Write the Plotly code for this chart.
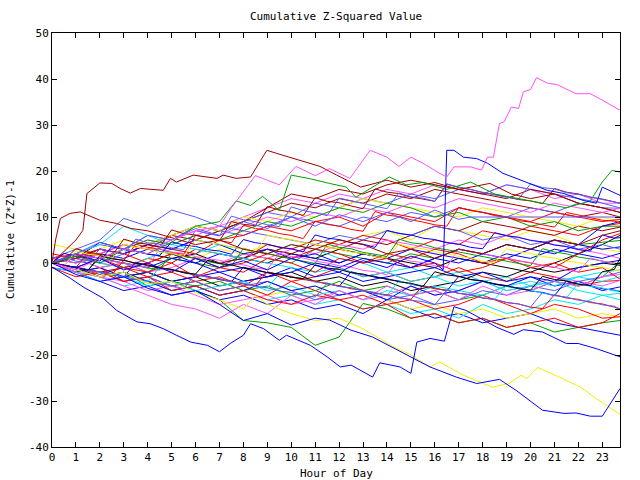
import plotly.graph_objects as go

# ---------------- data ----------------
HOURS = [0, 1, 2, 3, 4, 5, 6, 7, 8, 9, 10, 11, 12, 13, 14, 15, 16, 17, 18, 19, 20, 21, 22, 23, 23.74]
HALF_HOURS = [0, 0.5, 1, 1.5, 2, 2.5, 3, 3.5, 4, 4.5, 5, 5.5, 6, 6.5, 7, 7.5, 8, 8.5, 9, 9.5, 10, 10.5, 11, 11.5,
              12, 12.5, 13, 13.5, 14, 14.5, 15, 15.5, 16, 16.5, 17, 17.5, 18, 18.5, 19, 19.5, 20, 20.5, 21, 21.5,
              22, 22.5, 23, 23.5, 23.74]
X_TICKS = list(range(24))
Y_TICKS = [-40, -30, -20, -10, 0, 10, 20, 30, 40, 50]

# prominent lines with their own time points
pink_big_x = [0, 1, 2, 3, 4, 5, 6, 7, 7.5, 8.5, 9.5, 10.2, 11, 11.6, 12.45, 13.3, 14, 14.5, 15, 15.5, 16.2, 16.5,
              16.8, 17.5, 17.95, 18.2, 18.45, 18.7, 18.9, 19.2, 19.5, 19.7, 20, 20.25, 20.7, 21.1, 21.9, 22.5, 23, 23.74]
pink_big_y = [0, -1.5, 1, 3, 2, 5, 7, 8, 12, 19, 17, 21, 19, 20.5, 18.4, 24.5, 23, 21, 23, 21.7, 19.5, 18.7,
              20.9, 20.9, 20.2, 23, 23, 30.3, 30.7, 33.9, 33.6, 37.2, 37.7, 40.3, 39.1, 38.8, 36.8, 36.8, 35.4, 33.2]

darkred_top_x = [0, 0.5, 1.0, 1.29, 1.46, 2.0, 2.5, 2.85, 3.27, 3.7, 4.65, 4.95, 5.2, 5.9, 6.9, 7.15, 7.7, 8.3, 8.98,
                 9.6, 10.4, 11.2, 11.9, 12.9, 14, 15, 16, 17, 18.3, 19.2, 20, 21, 22, 23, 23.74]
darkred_top_y = [0, 2.5, 5, 7.1, 15.1, 17.4, 17.3, 16.2, 15.2, 16.2, 15.8, 18.4, 17.6, 19.1, 18.4, 19.1, 18.4, 18.7, 24.5,
                 23.5, 22.3, 21, 19.1, 16.5, 18, 16.5, 17.5, 16, 17.3, 15, 14, 15, 13, 12, 11]

darkred_low_x = [0, 0.15, 0.35, 0.76, 1.18, 1.6, 2.0, 2.7, 3.3, 4, 5, 6, 7, 8, 9, 10, 11, 12, 13, 14, 15, 16, 17, 18, 19, 20, 21, 22, 23, 23.74]
darkred_low_y = [0, 5, 9.7, 10.8, 11.1, 10.1, 9.3, 8.6, 7.5, 7, 5.5, 4, 5, 3, 2, 4, 3, 5, 4, 2, 3, 1, 3, 2, 4, 3, 5, 4, 6, 7]

blue_spike_x = [0, 1, 2, 3, 4, 5, 6, 7, 8, 9, 10, 11, 12, 13, 14, 15, 16, 16.35, 16.5, 16.8, 17.2, 17.75, 18.2, 18.85,
                20, 20.7, 21.4, 22.2, 22.75, 23, 23.74]
blue_spike_y = [0, -1, 1, -1.5, 0, -2, 1, -1, 0.5, -1.5, 1, -0.5, -2, 0.5, -1, 1.5, 0, -1.5, 24.5, 24.5, 23, 22.7, 21.7, 19.5,
                17.3, 15.8, 15.1, 13.6, 13, 16.5, 14.7]

slate_flat_x = [0, 1, 2, 3, 4, 5, 6, 7, 8, 9, 10, 11, 12, 13, 14, 15, 16, 17, 17.5, 23.74]
slate_flat_y = [0, 2, 4.5, 3, 6, 5, 7.5, 6, 9, 7.5, 10, 8, 10.5, 9, 11, 9, 11.5, 9.5, 10, 10]

blue_low1_x = [0, 0.76, 1.3, 2.15, 2.7, 3.55, 4.1, 4.66, 5.2, 5.8, 6.5, 7.0, 7.45, 8.0, 8.3, 8.85, 9.5, 9.8, 10.8, 11.5,
               12.05, 12.5, 13.4, 13.7, 14.55, 15.0, 15.25, 15.8, 16.4, 16.8, 17.3, 17.9, 18.6, 19.3, 19.7, 20.5, 21.5,
               22.0, 22.8, 23.74]
blue_low1_y = [-0.9, -3.3, -5.2, -7.7, -10.3, -12.8, -13.2, -14.3, -15.7, -17.2, -17.9, -19.3, -17.5, -15.7, -13.2, -14.3,
               -16.8, -15.7, -17.9, -20.4, -22.6, -22.2, -24.8, -21.7, -22.6, -24, -17.2, -16.4, -17, -9.5, -10.3, -12,
               -14, -15.5, -14.5, -15, -17.5, -17.5, -18.7, -20.4]

blue_low2_x = [0, 1, 2, 3, 4, 5, 6, 7, 8, 9, 10, 11, 11.6, 12.5, 13.4, 15, 15.8, 16.9, 17.75, 18.7, 19.4, 20.5, 21.4,
               21.9, 22.5, 23, 23.45, 23.74]
blue_low2_y = [0, -2.5, -4, -3, -5.5, -7, -6, -9, -12.5, -11, -13.5, -12, -12.4, -14.6, -16.1, -20.4, -22.6, -24.8, -26.2,
               -25.3, -27.7, -32, -32.7, -32.6, -33.3, -33.3, -29.8, -27.3]

yellow_low_x = [0, 1, 2, 3, 4, 5, 6, 7, 8, 8.5, 9, 10, 11, 12, 13, 14.3, 15, 15.8, 16.2, 17.2, 18.4, 19.1, 19.6, 19.85,
                20.3, 21.2, 22.1, 22.75, 23.74]
yellow_low_y = [0, -1.5, -3, -2, -4.5, -4, -6.5, -8, -10, -7, -9, -11, -12.5, -12, -14.3, -18.3, -20, -22.6, -21.5, -24.4,
                -27, -26.2, -24.4, -25.1, -22.7, -24.8, -27, -29.5, -32.9]

green_top_x = [0, 1, 2, 3, 4, 5, 6, 7, 7.7, 8.3, 8.8, 9.5, 10, 10.8, 11.6, 12.3, 12.7, 14.1, 14.8, 15.5, 16.5, 17.5,
               18.5, 19.5, 20.5, 21.5, 22.5, 23, 23.4, 23.74]
green_top_y = [0, 1.5, 0, 3, 2, 4.5, 8, 9, 13.5, 12.5, 14.5, 11.4, 19.1, 18.3, 17.3, 16.5, 14.3, 18.7, 17, 17.5, 16, 17.6,
               15, 14, 13, 12, 13.5, 17.6, 20.1, 19.8]

# background lines on the hourly grid
red_1 = [0, -1, -2.5, -1, -3, -2, -4, -3, -5, -2, -4, -3, -1, -3, -2, -4, -3, -1, -3, -4, -2, -3, -5, -4, -3.8]
red_2 = [1, 2, 0, -1, 1, 0, 3, 2, 1, 4, 3, 5, 4, 6, 5, 3, 5, 4, 7, 6, 8, 7, 6, 8, 8.6]
red_3 = [0, -2, -1, -4, -3, -5, -4, -6, -5, -7, -4, -6, -8, -7, -9, -8, -10, -9, -7, -9, -11, -9, -10, -12, -11.7]
red_4 = [0, 1.5, 3, 2, 4, 3, 2, 5, 6, 8, 7, 9, 10, 8, 11, 10, 9, 12, 11, 10, 9, 11, 10, 9, 9.5]
red_5 = [2, 1, 3, 2, 0, 2, 1, -1, 0, 2, 1, 3, 2, 0, 1, -1, 0, -2, -1, 1, 0, -1, 2, 5, 6.4]
red_6 = [0, -1, 1, -1, -2, 0, -3, -1, -2, 1, 0, -2, 1, 0, 2, 1, 3, 2, 0, 1, -1, 0, -2, -1, -3.5]
red_7 = [-1, -3, -2, -4, -3, -6, -5, -7, -6, -8, -9, -7, -8, -10, -9, -12, -11, -13, -12, -14, -13, -12, -14, -13, -11]
green_1 = [0, -1.5, -3, -2, -5, -4, -6, -8, -12.5, -13, -14, -17.9, -16.1, -8.8, -10, -12, -11, -13, -12, -14, -13, -15, -14, -13, -12.5]
green_2 = [0, 1, -1, 0, -2, 1, 0, -1, 2, 1, 0, 3, 2, 1, 0, 2, 1, 3, 2, 4, 3, 5, 4, 4.5, 4.9]
green_3 = [0, -1, -2, -3, -2, -4, -5, -4, -6, -5, -7, -6, -4, -6, -5, -7, -6, -8, -7, -5, -6, -4, -5, -3, 0.2]
green_4 = [0, 2, 1, 3, 5, 4, 6, 5, 7, 9, 8, 10, 12, 11, 13, 12, 10, 11, 9, 10, 8, 9, 7, 8, 8]
blue_1 = [0, -2, -4, -6, -5, -7, -6, -8, -7, -9, -8, -10, -9, -11, -8, -10, -12, -11, -13, -12, -11, -13, -14, -15, -15.7]
blue_2 = [1, 0, 2, 1, 3, 2, 0, 2, 1, 3, 2, 1, 0, 2, 1, 3, 2, 1, 0, 2, 1, 3, 2, 1, 2.1]
blue_3 = [-1, -2, -1, -3, -2, -4, -3, -2, -4, -3, -1, -3, -2, -4, -3, -2, -1, -3, -2, -4, -3, -5, -4, -6, -5.2]
blue_4 = [0, 1, 3, 2, 4, 3, 5, 4, 2, 3, 1, 2, 0, 2, 1, -1, 1, 0, 2, 1, 3, 2, 4, 3, 3.5]
blue_5 = [0, -1, -3, -2, -4, -6, -5, -7, -6, -4, -6, -5, -7, -6, -8, -5, -7, -6, -4, -5, -3, -4, -1, 0, 0.6]
blue_6 = [0, 2, 1, 0, -1, 1, 0, -2, -1, -3, -2, 0, -1, 1, 0, -1, 1, 3, 2, 4, 3, 5, 4, 8, 9]
pink_1 = [0, 2, 1, 3, 5, 4, 6, 8, 10, 12, 14, 13, 15, 14, 16, 15, 17, 16, 15, 17, 16, 14, 15, 13, 13]
pink_2 = [0, -1, -3, -4, -6, -5, -7, -9, -8, -7, -9, -8, -6, -8, -7, -5, -7, -6, -4, -6, -5, -3, -4, -5, -3.8]
pink_3 = [0, 1, -1, 0, -2, -1, 1, 0, 2, 1, 3, 2, 4, 3, 5, 4, 3, 5, 4, 6, 5, 4, 3, 2, 1]
pink_4 = [1, 0, 2, 4, 3, 5, 7, 6, 8, 10, 9, 11, 10, 12, 11, 13, 12, 14, 13, 12, 11, 13, 12, 11, 11.9]
pink_5 = [0, -2, -3, -5, -7, -9, -10, -12, -9, -11, -7, -9, -6, -8, -5, -7, -6, -8, -5, -7, -6, -4, -5, -3, -2.5]
cyan_1 = [0, -2, -3, -5, -4, -6, -5, -7, -6, -8, -7, -9, -8, -10, -9, -11, -10, -12, -9, -11, -10, -8, -9, -7, -6.6]
cyan_2 = [0, 1, 0, -1, 1, 3, 2, 4, 3, 2, 4, 3, 1, 0, -2, -1, -3, -2, -4, -3, -5, -4, -3, -4, -3]
cyan_3 = [-1, -2, -4, -3, -5, -4, -6, -5, -4, -6, -5, -7, -6, -8, -6, -7, -5, -6, -7, -5, -4, -5, -3, -2, -1.5]
cyan_4 = [0, 2, 4, 8, 6, 4, 3, 2, 1, 0, -1, -2, -1, -3, -2, -4, -3, -5, -4, -6, -5, -4, -6, -7, -8]
darkred_1 = [0, 1, 3, 2, 4, 6, 8, 7, 9, 11, 13, 12, 14, 13, 15, 14, 16, 15, 14, 13, 12, 11, 10, 11, 10]
darkred_2 = [0, -1, -2, -1, 0, 2, 1, 0, 1, 3, 2, 4, 3, 5, 4, 6, 8, 7, 9, 8, 7, 6, 8, 7, 7.8]
darkred_3 = [0, 1, 2, 4, 3, 6, 5, 7, 9, 12, 15, 14, 16, 15, 17, 18, 17, 16, 15, 14, 16, 15, 13, 12, 11]
yellow_1 = [4, 3, 2, 4, 3, 2, 1, 3, 2, 4, 3, 5, 4, 6, 7, 5, 8, 7, 6, 5, 7, 6, 4, 3, 2.5]
yellow_2 = [0, -1, -3, -2, -4, -5, -4, -6, -5, -7, -6, -5, -7, -6, -8, -10, -9, -11, -10, -12, -11, -10, -12, -11, -11.7]
yellow_3 = [0, 1, 3, 5, 4, 6, 8, 7, 10, 9, 11, 10, 12, 14, 13, 12, 11, 10, 12, 11, 10, 9, 8, 10, 9]
black_1 = [0, 1, 4.5, 3, 2, 1, 2, 0, 1, 0, 2, 1, 3, 2, 1, 0, -1, 1, 0, -1, -2, 0, 2, 4, 6]
black_2 = [0, -1, -2, -3, -2, -4, -3, -5, -4, -3, -2, -4, -3, -5, -4, -6, -5, -4, -2, -3, -1, -2, -1, 0, -0.5]
slate_1 = [0, 2, 4, 3, 6, 5, 8, 7, 9, 11, 10, 13, 12, 14, 13, 15, 14, 16, 15, 17, 16, 15, 14, 13, 12]
slate_2 = [0, 1, 0, 2, 4, 3, 5, 7, 6, 8, 10, 9, 8, 10, 9, 11, 10, 12, 11, 10, 12, 11, 13, 12, 11.9]
slate_3 = [0, -1, -2, -4, -3, -5, -4, -6, -5, -4, -6, -8, -7, -6, -8, -7, -9, -8, -6, -7, -5, -6, -4, -3, -2]
slate_4 = [1, 3, 5, 9.7, 8, 11.5, 10, 8, 7, 6, 5, 4, 6, 5, 7, 6, 8, 7, 5, 6, 4, 5, 3, 4, 3]

# background lines on the half-hour grid (49 values each)
red_h1 = [0, -0.4, -1, 2.2, 1.6, 1.1, 0.5, 4.1,
          3.4, 3, 2.3, 1.9, 6, 5.6, 4.9, 4.4, 8.2, 7.5, 7.1, 6.4, 6, 5.3, 9.1, 8.4,
          8, 7.3, 6.9, 11.2, 10.4, 10.1, 9.4, 8.9, 8.3, 8, 12.1, 11.4, 11, 10.3, 9.9, 9.2,
          8.9, 8.3, 7.8, 11, 10.4, 9.9, 9.3, 9.1, 8.8]
darkred_h1 = [0, 0.6, 3.1, 2.4, 1.9, 1.5, 5.2, 4.4,
              4.1, 3.4, 7.2, 6.4, 6.1, 5.4, 4.8, 9, 8.4, 8.1, 12.3, 11.5, 11.1, 10.3, 14.2, 13.4,
              13.1, 12.4, 11.8, 16.1, 15.4, 15.1, 14.3, 13.9, 13.4, 17.2, 16.4, 16, 15.3, 14.9, 14.4, 13.8,
              13.5, 12.9, 16.2, 15.4, 15, 14.3, 13.9, 13.4, 13]
slate_h1 = [0, 1.2, 0.4, 0, 3.1, 2.4, 1.9, 5.2,
            4.4, 4.1, 3.3, 2.9, 7.1, 6.4, 5.9, 10.2, 9.4, 9, 8.3, 7.9, 12.2, 11.4, 10.9, 10.3,
            14.1, 13.5, 12.9, 12.4, 11.8, 15.2, 14.4, 14.1, 13.4, 17.1, 16.5, 15.9, 15.4, 14.8, 14.3, 13.9,
            17.2, 16.4, 16.1, 15.3, 14.9, 14.4, 13.9, 13.3, 13]
green_h1 = [0, -0.6, -1, -1.6, 1.1, 0.4, 0, -0.6,
            -1.1, -1.4, 2.1, 1.4, 1.1, 0.3, -0.1, -0.6, 3.2, 2.4, 2.1, 1.4, 0.9, 0.4, -0.1, 4.1,
            3.4, 3.1, 2.3, 1.9, 1.4, 5.2, 4.4, 4.1, 3.3, 2.9, 2.4, 1.8, 1.4, 0.9, 0.4, -0.1,
            -0.6, 3.1, 2.4, 2, 1.3, 0.9, 0.4, 0, -0.3]
blue_h1 = [0, -0.6, -1.1, -1.4, -2.1, -2.4, -3.1, 0.2,
           -0.6, -1.1, -1.4, -2.1, -2.6, -2.9, -3.6, -4.1, -0.9, -1.6, -2.1, -2.4, -3.1, -3.4, -4.1, -4.4,
           -5.1, -1.9, -2.6, -2.9, -3.6, -3.9, -4.6, -5.1, -5.4, -6.1, -2.9, -3.6, -3.9, -4.6, -5.1, -5.4,
           -6.1, -6.4, -7.1, -3.9, -4.6, -4.9, -5.6, -5.9, -6.2]
cyan_h1 = [0, -0.6, -0.9, -1.6, -2.1, -2.4, -3.1, -3.4,
           -4.1, -0.9, -1.6, -1.9, -2.6, -3.1, -3.4, -4.1, -4.4, -5.1, -5.4, -2.4, -3.1, -3.4, -4.1, -4.4,
           -5.1, -5.4, -6.1, -6.4, -7.1, -3.9, -4.6, -4.9, -5.6, -5.9, -6.6, -6.9, -7.6, -7.9, -4.9, -5.6,
           -5.9, -6.6, -6.9, -7.6, -4.4, -5.1, -5.4, -6.1, -6]
pink_h1 = [0, -0.6, 2.1, 1.4, 1.1, 0.4, 0, -0.6,
           -0.9, 3.1, 2.4, 2.1, 1.4, 0.9, 0.6, -0.1, -0.4, -1.1, -1.4, 2.1, 1.4, 1.1, 0.4, 0,
           -0.6, -0.9, -1.6, -1.9, -2.6, 1.1, 0.4, 0.1, -0.6, -0.9, 3.1, 2.4, 2.1, 1.4, 1.1, 0.4,
           0.1, -0.6, -0.9, -1.6, -1.9, 1.1, 0.4, 0.1, -0.2]
red_h2 = [0, -0.6, -0.9, -1.6, -1.9, -2.6, 0.6, 0,
          -0.6, -0.9, -1.6, -1.9, -2.6, -2.9, -3.6, -3.9, -4.6, -4.9, -1.9, -2.6, -2.9, -3.6, -3.9, -4.6,
          -4.9, -5.6, -5.9, -6.6, -6.9, -7.6, -7.9, -4.9, -5.6, -5.9, -6.6, -6.9, -7.6, -7.9, -8.6, -8.9,
          -9.6, -9.9, -6.9, -7.6, -7.9, -8.6, -8.9, -9.6, -10]
blue_h2 = [0, 2.1, 1.4, 1.1, 0.4, 3.6, 2.9, 2.6,
           1.9, 1.6, 4.6, 3.9, 3.6, 2.9, 2.6, 1.9, 5.1, 4.4, 4.1, 3.4, 3.1, 2.4, 6.1, 5.4,
           5.1, 4.4, 4.1, 3.4, 7.1, 6.4, 6.1, 5.4, 5.1, 4.4, 4.1, 3.4, 3.1, 6.6, 5.9, 5.6,
           4.9, 4.6, 3.9, 3.6, 2.9, 2.6, 6.1, 5.4, 5.5]
yellow_h1 = [0, -0.6, 2.6, 1.9, 1.6, 0.9, 4.1, 3.4,
             3.1, 2.4, 2.1, 1.4, 5.1, 4.4, 4.1, 3.4, 3.1, 2.4, 6.1, 5.4, 5.1, 4.4, 4.1, 3.4,
             3.1, 2.4, 2.1, 1.4, 1.1, 4.1, 3.4, 3.1, 2.4, 2.1, 1.4, 1.1, 0.4, 0.1, 3.1, 2.4,
             2.1, 1.4, 1.1, 0.4, 0.1, -0.6, -0.9, -1.6, -1.5]
slate_h2 = [0, -0.6, -0.9, -1.6, -1.9, -2.6, -2.9, -3.6,
            -3.9, -4.6, -4.9, -5.6, -2.4, -3.1, -3.4, -4.1, -4.4, -5.1, -5.4, -6.1, -6.4, -7.1, -7.4, -4.4,
            -5.1, -5.4, -6.1, -6.4, -7.1, -7.4, -8.1, -8.4, -9.1, -5.9, -6.6, -6.9, -7.6, -7.9, -8.6, -8.9,
            -9.6, -6.4, -7.1, -7.4, -8.1, -8.4, -9.1, -9.4, -10]
black_h1 = [0, -0.6, -0.9, -1.6, 1.6, 0.9, 0.6, -0.1,
            -0.4, -1.1, -1.4, -2.1, -2.4, 0.6, -0.1, -0.4, -1.1, -1.4, -2.1, -2.4, -3.1, -3.4, -0.4, -1.1,
            -1.4, -2.1, -2.4, -3.1, -3.4, -4.1, -4.4, -5.1, -1.9, -2.6, -2.9, -3.6, -3.9, -4.6, -4.9, -5.6,
            -5.9, -2.9, -3.6, -3.9, -4.6, -4.9, -1.9, -1.4, 1]

# ---------------- colours ----------------
RED = "#ff0000"
GREEN = "#00a000"
BLUE = "#0000ff"
PINK = "#ff50ff"
CYAN = "#00e8f0"
DARKRED = "#a00000"
YELLOW = "#f0f000"
BLACK = "#000000"
SLATE = "#5a5aff"

hourly = [
    (red_1, RED), (green_1, GREEN), (blue_1, BLUE), (pink_1, PINK), (cyan_1, CYAN), (darkred_1, DARKRED),
    (yellow_1, YELLOW), (black_1, BLACK), (slate_1, SLATE),
    (red_2, RED), (green_2, GREEN), (blue_2, BLUE), (pink_2, PINK), (cyan_2, CYAN), (darkred_2, DARKRED),
    (yellow_2, YELLOW), (black_2, BLACK), (slate_2, SLATE),
    (red_3, RED), (green_3, GREEN), (blue_3, BLUE), (pink_3, PINK), (cyan_3, CYAN), (darkred_3, DARKRED),
    (yellow_3, YELLOW), (slate_3, SLATE),
    (red_4, RED), (green_4, GREEN), (blue_4, BLUE), (pink_4, PINK), (cyan_4, CYAN), (slate_4, SLATE),
    (red_5, RED), (blue_5, BLUE), (pink_5, PINK), (red_6, RED), (blue_6, BLUE), (red_7, RED),
]

half_hourly = [
    (red_h1, RED), (darkred_h1, DARKRED), (slate_h1, SLATE), (green_h1, GREEN), (blue_h1, BLUE), (cyan_h1, CYAN),
    (pink_h1, PINK), (red_h2, RED), (blue_h2, BLUE), (yellow_h1, YELLOW), (slate_h2, SLATE), (black_h1, BLACK),
]

special = [
    (darkred_top_x, darkred_top_y, DARKRED),
    (darkred_low_x, darkred_low_y, DARKRED),
    (green_top_x, green_top_y, GREEN),
    (slate_flat_x, slate_flat_y, SLATE),
    (yellow_low_x, yellow_low_y, YELLOW),
    (blue_low2_x, blue_low2_y, BLUE),
    (blue_low1_x, blue_low1_y, BLUE),
    (blue_spike_x, blue_spike_y, BLUE),
    (pink_big_x, pink_big_y, PINK),
]

fig = go.Figure()
for ys, col in hourly:
    fig.add_trace(go.Scatter(x=HOURS, y=ys, mode="lines", line=dict(color=col, width=1), hoverinfo="skip"))
for ys, col in half_hourly:
    fig.add_trace(go.Scatter(x=HALF_HOURS, y=ys, mode="lines", line=dict(color=col, width=1), hoverinfo="skip"))
for xs, ys, col in special:
    fig.add_trace(go.Scatter(x=xs, y=ys, mode="lines", line=dict(color=col, width=1), hoverinfo="skip"))

FONT = "DejaVu Sans Mono"
fig.update_layout(
    width=640, height=480,
    margin=dict(l=52, r=20, t=33, b=33),
    paper_bgcolor="white", plot_bgcolor="white",
    showlegend=False,
    font=dict(family=FONT, size=11, color="black"),
    xaxis=dict(range=[0, 23.74], tickmode="array", tickvals=X_TICKS, ticktext=[str(v) for v in X_TICKS],
               ticks="inside", ticklen=5, tickcolor="black", showline=True, linecolor="black", linewidth=1,
               mirror="ticks", showgrid=False, zeroline=False, tickfont=dict(family=FONT, size=11)),
    yaxis=dict(range=[-40, 50], tickmode="array", tickvals=Y_TICKS, ticktext=[str(v) for v in Y_TICKS],
               ticks="inside", ticklen=5, tickcolor="black", showline=True, linecolor="black", linewidth=1,
               mirror="ticks", showgrid=False, zeroline=False, tickfont=dict(family=FONT, size=11)),
    annotations=[
        dict(text="Cumulative Z-Squared Value", xref="paper", yref="paper", x=0.5, y=1, yshift=17,
             showarrow=False, font=dict(family=FONT, size=11), xanchor="center", yanchor="middle"),
        dict(text="Hour of Day", xref="paper", yref="paper", x=0.5, y=0, yshift=-26,
             showarrow=False, font=dict(family=FONT, size=11), xanchor="center", yanchor="middle"),
        dict(text="Cumulative (Z*Z)-1", xref="paper", yref="paper", x=0, y=0.5, xshift=-42,
             textangle=-90, showarrow=False, font=dict(family=FONT, size=11), xanchor="center", yanchor="middle"),
    ],
)

fig.write_html("out.html")
